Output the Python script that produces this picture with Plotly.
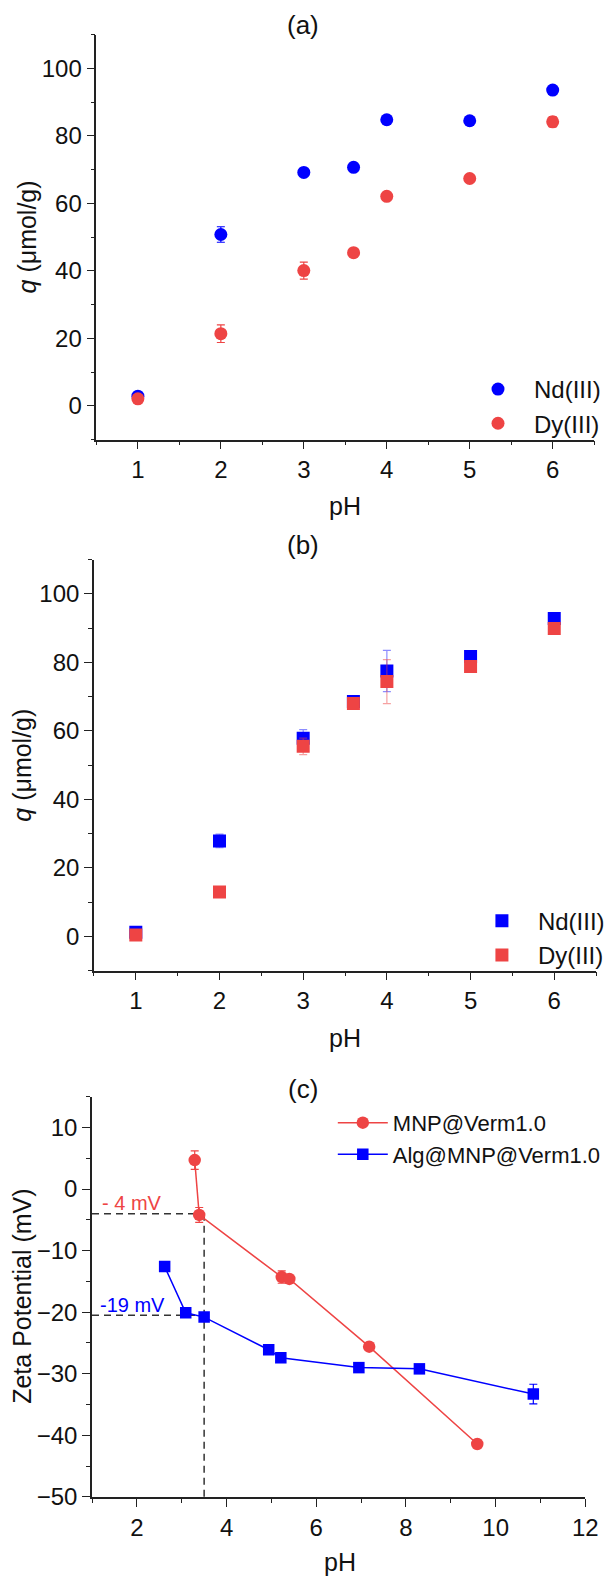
import plotly.graph_objects as go

# ---- (a) adsorption on MNP@Verm (circles) ----
ph_ab = [1, 2, 3, 3.6, 4, 5, 6]
nd_a = [2.9, 50.8, 69.2, 70.7, 84.8, 84.5, 93.6]
nd_a_err = [0.5, 2.3, 0.8, 1.2, 1.0, 1.0, 1.0]
dy_a = [2.1, 21.4, 40.1, 45.4, 62.1, 67.4, 84.2]
dy_a_err = [0.5, 2.6, 2.5, 1.0, 0.8, 0.8, 1.5]

# ---- (b) adsorption on Alg@MNP@Verm (squares) ----
nd_b = [1.2, 27.9, 57.9, 68.6, 77.5, 81.7, 92.8]
nd_b_err = [0.5, 2.0, 2.5, 1.0, 6.0, 1.0, 1.0]
dy_b = [0.4, 13.0, 55.5, 68.0, 74.4, 78.8, 89.9]
dy_b_err = [0.5, 1.0, 2.4, 1.0, 6.4, 1.0, 1.0]

# ---- (c) zeta potential ----
ph_mnp = [3.29, 3.39, 5.23, 5.40, 7.18, 9.59]
zeta_mnp = [4.7, -4.2, -14.3, -14.6, -25.6, -41.4]
zeta_mnp_err = [1.5, 1.2, 1.0, 0.5, 0.5, 0.5]
ph_alg = [2.62, 3.09, 3.50, 4.94, 5.21, 6.95, 8.30, 10.84]
zeta_alg = [-12.6, -20.1, -20.8, -26.1, -27.4, -29.0, -29.2, -33.3]
zeta_alg_err = [0.3, 0.3, 0.5, 0.5, 0.5, 0.5, 0.7, 1.6]

# guide lines marking the values read at pH 3.5
guide_ph = 3.5
guide_mnp = -4
guide_alg = -20.5

W, H = 614, 1588
BLUE = "#0000FF"
RED = "#EE4444"
FONT = "Liberation Sans, Arial, sans-serif"


def px_x(p):
    return p / W


def px_y(p):
    return 1 - p / H


fig = go.Figure()

# panel (a)
fig.add_trace(go.Scatter(
    x=ph_ab, y=nd_a, mode="markers", name="Nd(III)",
    marker=dict(symbol="circle", size=13, color=BLUE),
    error_y=dict(type="data", array=nd_a_err, color=BLUE, thickness=1.2, width=4),
    xaxis="x", yaxis="y", legend="legend"))
fig.add_trace(go.Scatter(
    x=ph_ab, y=dy_a, mode="markers", name="Dy(III)",
    marker=dict(symbol="circle", size=13, color=RED),
    error_y=dict(type="data", array=dy_a_err, color=RED, thickness=1.2, width=4),
    xaxis="x", yaxis="y", legend="legend"))

# panel (b)
fig.add_trace(go.Scatter(
    x=ph_ab, y=nd_b, mode="markers", name="Nd(III)",
    marker=dict(symbol="square", size=13, color=BLUE),
    error_y=dict(type="data", array=nd_b_err, color="rgba(0,0,255,0.45)", thickness=1.2, width=4),
    xaxis="x2", yaxis="y2", legend="legend2"))
fig.add_trace(go.Scatter(
    x=ph_ab, y=dy_b, mode="markers", name="Dy(III)",
    marker=dict(symbol="square", size=13, color=RED),
    error_y=dict(type="data", array=dy_b_err, color="rgba(238,68,68,0.5)", thickness=1.2, width=4),
    xaxis="x2", yaxis="y2", legend="legend2"))

# panel (c) guide lines
dash_style = dict(color="#333333", width=1.5, dash="7px,5px")
fig.add_trace(go.Scatter(
    x=[1, guide_ph], y=[guide_mnp, guide_mnp], mode="lines", line=dash_style,
    showlegend=False, hoverinfo="skip", xaxis="x3", yaxis="y3"))
fig.add_trace(go.Scatter(
    x=[1, guide_ph], y=[guide_alg, guide_alg], mode="lines", line=dash_style,
    showlegend=False, hoverinfo="skip", xaxis="x3", yaxis="y3"))
fig.add_trace(go.Scatter(
    x=[guide_ph, guide_ph], y=[guide_mnp, -50], mode="lines", line=dash_style,
    showlegend=False, hoverinfo="skip", xaxis="x3", yaxis="y3"))

# panel (c) series
fig.add_trace(go.Scatter(
    x=ph_mnp, y=zeta_mnp, mode="lines+markers", name="MNP@Verm1.0",
    line=dict(color=RED, width=1.5),
    marker=dict(symbol="circle", size=12.5, color=RED),
    error_y=dict(type="data", array=zeta_mnp_err, color=RED, thickness=1.2, width=4),
    xaxis="x3", yaxis="y3", legend="legend3"))
fig.add_trace(go.Scatter(
    x=ph_alg, y=zeta_alg, mode="lines+markers", name="Alg@MNP@Verm1.0",
    line=dict(color=BLUE, width=1.5),
    marker=dict(symbol="square", size=11.5, color=BLUE),
    error_y=dict(type="data", array=zeta_alg_err, color=BLUE, thickness=1.2, width=4),
    xaxis="x3", yaxis="y3", legend="legend3"))


def axis(domain, rng, dtick, minor_dtick, anchor):
    return dict(
        domain=domain, range=rng, anchor=anchor,
        tickmode="linear", tick0=0, dtick=dtick,
        showline=True, linecolor="#222222", linewidth=1.6,
        ticks="outside", ticklen=8, tickwidth=1.4, tickcolor="#222222",
        minor=dict(dtick=minor_dtick, tick0=0, ticks="outside", ticklen=4,
                   tickwidth=1.2, tickcolor="#222222", showgrid=False),
        showgrid=False, zeroline=False, mirror=False,
        tickfont=dict(size=24, color="#111111", family=FONT),
    )


layout = dict(
    width=W, height=H,
    margin=dict(l=0, r=0, t=0, b=0),
    paper_bgcolor="white", plot_bgcolor="white",
    font=dict(family=FONT, color="#111111"),
    xaxis=axis([px_x(98.5), px_x(607)], [0.5, 6.5], 1, 0.5, "y"),
    yaxis=axis([px_y(443.3), px_y(35)], [-10, 110], 20, 10, "x"),
    xaxis2=axis([px_x(96), px_x(609)], [0.5, 6.5], 1, 0.5, "y2"),
    yaxis2=axis([px_y(978.7), px_y(564.3)], [-10, 110], 20, 10, "x2"),
    xaxis3=axis([px_x(94), px_x(598)], [1, 12], 2, 1, "y3"),
    yaxis3=axis([px_y(1509.3), px_y(1105.7)], [-50, 15], 10, 5, "x3"),
    legend=dict(x=px_x(472), y=px_y(370), xanchor="left", yanchor="top",
                bgcolor="rgba(0,0,0,0)", itemwidth=62,
                font=dict(size=24, family=FONT, color="#111111")),
    legend2=dict(x=px_x(476), y=px_y(906), xanchor="left", yanchor="top",
                 bgcolor="rgba(0,0,0,0)", itemwidth=62,
                 font=dict(size=24, family=FONT, color="#111111")),
    legend3=dict(x=px_x(340), y=px_y(1111), xanchor="left", yanchor="top",
                 bgcolor="rgba(0,0,0,0)", itemwidth=50,
                 font=dict(size=22, family=FONT, color="#111111")),
    showlegend=True,
)
fig.update_layout(**layout)

title_font = dict(size=26, family=FONT, color="#111111")
label_font = dict(size=25, family=FONT, color="#111111")
notes = [
    # panel titles
    dict(text="(a)", x=px_x(310), y=px_y(25), font=title_font),
    dict(text="(b)", x=px_x(310), y=px_y(550), font=title_font),
    dict(text="(c)", x=px_x(310), y=px_y(1098), font=title_font),
    # x-axis titles
    dict(text="pH", x=px_x(352), y=px_y(510), font=label_font),
    dict(text="pH", x=px_x(352), y=px_y(1046.7), font=label_font),
    dict(text="pH", x=px_x(347), y=px_y(1575), font=label_font),
    # y-axis titles
    dict(text="<i>q</i> (μmol/g)", x=px_x(28), y=px_y(239), textangle=-90, font=label_font),
    dict(text="<i>q</i> (μmol/g)", x=px_x(23), y=px_y(771.5), textangle=-90, font=label_font),
    dict(text="Zeta Potential (mV)", x=px_x(22.5), y=px_y(1307.5), textangle=-90, font=label_font),
]
for n in notes:
    fig.add_annotation(xref="paper", yref="paper", showarrow=False,
                       xanchor="center", yanchor="middle", **n)

# value labels next to the guide lines
fig.add_annotation(text="- 4 mV", x=1.9, y=-2.3, xref="x3", yref="y3",
                   showarrow=False, xanchor="center", yanchor="middle",
                   font=dict(size=20, family=FONT, color=RED))
fig.add_annotation(text="-19 mV", x=1.9, y=-18.9, xref="x3", yref="y3",
                   showarrow=False, xanchor="center", yanchor="middle",
                   font=dict(size=20, family=FONT, color=BLUE))

fig.write_html("out.html")
